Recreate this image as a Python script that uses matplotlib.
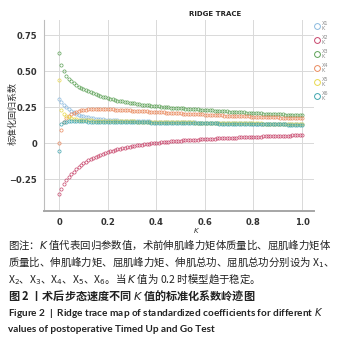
import matplotlib
matplotlib.use("Agg")
import matplotlib.pyplot as plt
import numpy as np

# 岭参数 K（0 到 1，步长 0.01）
k_values = np.linspace(0, 1, 101)

x1 = [0.310, 0.290, 0.268, 0.250, 0.236, 0.224, 0.214, 0.206, 0.199, 0.193, 0.188,
      0.184, 0.180, 0.177, 0.174, 0.172, 0.170, 0.168, 0.166, 0.165, 0.163,
      0.162, 0.161, 0.160, 0.159, 0.158, 0.158, 0.157, 0.156, 0.156, 0.155,
      0.155, 0.154, 0.154, 0.153, 0.153, 0.152, 0.152, 0.151, 0.151, 0.150,
      0.150, 0.150, 0.149, 0.149, 0.148, 0.148, 0.148, 0.147, 0.147, 0.147,
      0.146, 0.146, 0.146, 0.145, 0.145, 0.145, 0.144, 0.144, 0.144, 0.143,
      0.143, 0.143, 0.142, 0.142, 0.142, 0.141, 0.141, 0.141, 0.140, 0.140,
      0.140, 0.140, 0.139, 0.139, 0.139, 0.138, 0.138, 0.138, 0.138, 0.137,
      0.137, 0.137, 0.136, 0.136, 0.136, 0.136, 0.135, 0.135, 0.135, 0.135,
      0.134, 0.134, 0.134, 0.133, 0.133, 0.133, 0.133, 0.132, 0.132, 0.132]

x2 = [-0.350, -0.318, -0.285, -0.258, -0.235, -0.215, -0.197, -0.181, -0.166, -0.152, -0.140,
      -0.129, -0.119, -0.110, -0.101, -0.093, -0.086, -0.079, -0.073, -0.067, -0.061,
      -0.056, -0.051, -0.046, -0.042, -0.038, -0.034, -0.030, -0.027, -0.023, -0.020,
      -0.017, -0.015, -0.012, -0.010, -0.007, -0.005, -0.003, -0.001, 0.001, 0.003,
      0.005, 0.006, 0.008, 0.010, 0.011, 0.013, 0.014, 0.016, 0.017, 0.018,
      0.020, 0.021, 0.022, 0.023, 0.024, 0.025, 0.026, 0.027, 0.028, 0.029,
      0.030, 0.031, 0.032, 0.033, 0.034, 0.035, 0.036, 0.036, 0.037, 0.038,
      0.039, 0.040, 0.040, 0.041, 0.042, 0.043, 0.043, 0.044, 0.045, 0.045,
      0.046, 0.047, 0.047, 0.048, 0.049, 0.049, 0.050, 0.050, 0.051, 0.052,
      0.052, 0.053, 0.053, 0.054, 0.054, 0.055, 0.055, 0.056, 0.056, 0.057]

x3 = [0.630, 0.545, 0.500, 0.470, 0.448, 0.430, 0.416, 0.404, 0.394, 0.386, 0.378,
      0.370, 0.362, 0.355, 0.348, 0.342, 0.336, 0.330, 0.324, 0.319, 0.314,
      0.309, 0.305, 0.301, 0.297, 0.294, 0.291, 0.288, 0.285, 0.282, 0.279,
      0.277, 0.274, 0.272, 0.269, 0.267, 0.265, 0.263, 0.261, 0.259, 0.257,
      0.256, 0.254, 0.253, 0.251, 0.250, 0.248, 0.247, 0.246, 0.244, 0.243,
      0.242, 0.241, 0.239, 0.238, 0.237, 0.236, 0.235, 0.234, 0.232, 0.231,
      0.230, 0.229, 0.228, 0.227, 0.226, 0.225, 0.224, 0.222, 0.221, 0.220,
      0.219, 0.218, 0.217, 0.216, 0.215, 0.214, 0.213, 0.212, 0.211, 0.210,
      0.209, 0.208, 0.207, 0.206, 0.205, 0.205, 0.204, 0.203, 0.202, 0.201,
      0.200, 0.200, 0.199, 0.198, 0.197, 0.197, 0.196, 0.195, 0.195, 0.194]

x4 = [0.000, 0.095, 0.145, 0.175, 0.192, 0.203, 0.212, 0.219, 0.224, 0.228, 0.231,
      0.233, 0.235, 0.236, 0.237, 0.237, 0.237, 0.237, 0.237, 0.236, 0.236,
      0.235, 0.235, 0.234, 0.233, 0.232, 0.231, 0.230, 0.229, 0.228, 0.227,
      0.226, 0.225, 0.224, 0.223, 0.222, 0.221, 0.220, 0.219, 0.218, 0.217,
      0.216, 0.215, 0.214, 0.213, 0.212, 0.211, 0.210, 0.209, 0.208, 0.207,
      0.206, 0.205, 0.205, 0.204, 0.203, 0.202, 0.201, 0.201, 0.200, 0.199,
      0.198, 0.198, 0.197, 0.196, 0.195, 0.195, 0.194, 0.193, 0.193, 0.192,
      0.191, 0.191, 0.190, 0.189, 0.189, 0.188, 0.187, 0.187, 0.186, 0.186,
      0.185, 0.184, 0.184, 0.183, 0.183, 0.182, 0.181, 0.181, 0.180, 0.180,
      0.179, 0.179, 0.178, 0.178, 0.177, 0.177, 0.176, 0.176, 0.175, 0.175]

x5 = [0.440, 0.230, 0.205, 0.190, 0.181, 0.175, 0.171, 0.168, 0.165, 0.163, 0.162,
      0.161, 0.160, 0.159, 0.158, 0.158, 0.157, 0.157, 0.156, 0.156, 0.155,
      0.155, 0.155, 0.154, 0.154, 0.154, 0.153, 0.153, 0.153, 0.152, 0.152,
      0.152, 0.151, 0.151, 0.151, 0.150, 0.150, 0.150, 0.149, 0.149, 0.149,
      0.148, 0.148, 0.148, 0.148, 0.147, 0.147, 0.147, 0.146, 0.146, 0.146,
      0.146, 0.145, 0.145, 0.145, 0.145, 0.144, 0.144, 0.144, 0.144, 0.143,
      0.143, 0.143, 0.143, 0.142, 0.142, 0.142, 0.142, 0.141, 0.141, 0.141,
      0.141, 0.140, 0.140, 0.140, 0.140, 0.139, 0.139, 0.139, 0.139, 0.138,
      0.138, 0.138, 0.138, 0.137, 0.137, 0.137, 0.137, 0.136, 0.136, 0.136,
      0.136, 0.135, 0.135, 0.135, 0.135, 0.134, 0.134, 0.134, 0.134, 0.133]

x6 = [-0.050, 0.135, 0.147, 0.151, 0.153, 0.153, 0.153, 0.153, 0.153, 0.152, 0.152,
      0.152, 0.151, 0.151, 0.151, 0.150, 0.150, 0.150, 0.150, 0.149, 0.149,
      0.149, 0.148, 0.148, 0.148, 0.148, 0.147, 0.147, 0.147, 0.147, 0.146,
      0.146, 0.146, 0.146, 0.145, 0.145, 0.145, 0.145, 0.144, 0.144, 0.144,
      0.144, 0.143, 0.143, 0.143, 0.143, 0.142, 0.142, 0.142, 0.142, 0.141,
      0.141, 0.141, 0.141, 0.140, 0.140, 0.140, 0.140, 0.139, 0.139, 0.139,
      0.139, 0.138, 0.138, 0.138, 0.138, 0.137, 0.137, 0.137, 0.137, 0.136,
      0.136, 0.136, 0.136, 0.135, 0.135, 0.135, 0.135, 0.134, 0.134, 0.134,
      0.134, 0.133, 0.133, 0.133, 0.133, 0.132, 0.132, 0.132, 0.132, 0.131,
      0.131, 0.131, 0.131, 0.130, 0.130, 0.130, 0.130, 0.129, 0.129, 0.129]

series = [x1, x2, x3, x4, x5, x6]
series_names = ["X1", "X2", "X3", "X4", "X5", "X6"]
colors = ["#8bbade", "#c8466c", "#5da257", "#e98a5e", "#e8d94e", "#3fa5ae"]

x_ticks = [0, 0.2, 0.4, 0.6, 0.8, 1.0]
x_ticklabels = ["0", "0.2", "0.4", "0.6", "0.8", "1.0"]
y_ticks = [-0.25, 0, 0.25, 0.50, 0.75]
y_ticklabels = ["\u22120.25", "0", "0.25", "0.50", "0.75"]

cjk = ["Noto Sans CJK SC", "DejaVu Sans"]

fig = plt.figure(figsize=(3.62, 3.42), dpi=100)
ax = fig.add_axes([44 / 362, 1 - 211 / 342, 270 / 362, 191 / 342])

for vals, name, c in zip(series, series_names, colors):
    ax.plot(k_values, vals, linestyle="none", marker="o", ms=2.3,
            mfc="none", mec=c, mew=0.5)

ax.set_xlim(-0.062, 1.049)
ax.set_ylim(-0.47, 0.856)
ax.set_xticks(x_ticks)
ax.set_xticklabels(x_ticklabels)
ax.set_yticks(y_ticks)
ax.set_yticklabels(y_ticklabels)
ax.tick_params(length=0, labelsize=6, pad=5, colors="#333333")
for lab in ax.get_xticklabels() + ax.get_yticklabels():
    lab.set_fontweight("bold")

ax.grid(True, color="#d9d9d9", linewidth=0.7)
ax.set_axisbelow(True)
for s in ["top", "right"]:
    ax.spines[s].set_visible(False)
ax.spines["left"].set_color("#bdbdbd")
ax.spines["left"].set_linewidth(0.8)
ax.spines["bottom"].set_color("#a6a6a6")
ax.spines["bottom"].set_linewidth(1.4)

fig.text(13 / 362, 1 - 113 / 342, "标准化回归系数", family=cjk, fontsize=6.5,
         rotation=90, color="#333333", ha="center", va="center")
fig.text(196 / 362, 1 - 231 / 342, "K", fontsize=5, style="italic", color="#333333",
         ha="center", va="center")
fig.text(215 / 362, 1 - 14 / 342, "RIDGE TRACE", fontsize=5, fontweight="bold",
         color="#222222", ha="center", va="center")

# 图例：圆圈 + 两行小字 "Xn / K"
for i, (name, c) in enumerate(zip(series_names, colors)):
    yy = 1 - (26 + 14 * i) / 342
    fig.lines.append(plt.Line2D([317 / 362], [yy], transform=fig.transFigure,
                                linestyle="none", marker="o", ms=4.2,
                                mfc="none", mec=c, mew=0.7))
    fig.text(322 / 362, yy, name + "\nK", fontsize=3.6, color="#8a8a8a",
             ha="left", va="center", linespacing=0.95)

# 图注
cap = dict(family=cjk, fontsize=7.5, color="#222222", ha="left", va="center")
fig.text(8 / 362, 1 - 245 / 342,
         "图注：$K$ 值代表回归参数值，术前伸肌峰力矩体质量比、屈肌峰力矩体", **cap)
fig.text(8 / 362, 1 - 262 / 342,
         "质量比、伸肌峰力矩、屈肌峰力矩、伸肌总功、屈肌总功分别设为 X$_1$、", **cap)
fig.text(8 / 362, 1 - 279 / 342,
         "X$_2$、X$_3$、X$_4$、X$_5$、X$_6$。当 $K$ 值为 0.2 时模型趋于稳定。", **cap)
fig.text(8 / 362, 1 - 296 / 342,
         "图 2 丨术后步态速度不同 $K$ 值的标准化系数岭迹图", family=cjk, fontsize=8,
         fontweight="bold", color="#222222", ha="left", va="center")
en = dict(family=["Lato", "DejaVu Sans"], fontsize=7.2, fontweight="bold",
          color="#222222", ha="left", va="center")
fig.text(8 / 362, 1 - 313 / 342,
         "Figure 2  |  Ridge trace map of standardized coefficients for different $K$", **en)
fig.text(8 / 362, 1 - 329 / 342,
         "values of postoperative Timed Up and Go Test", **en)

fig.savefig("out.png", dpi=100)
